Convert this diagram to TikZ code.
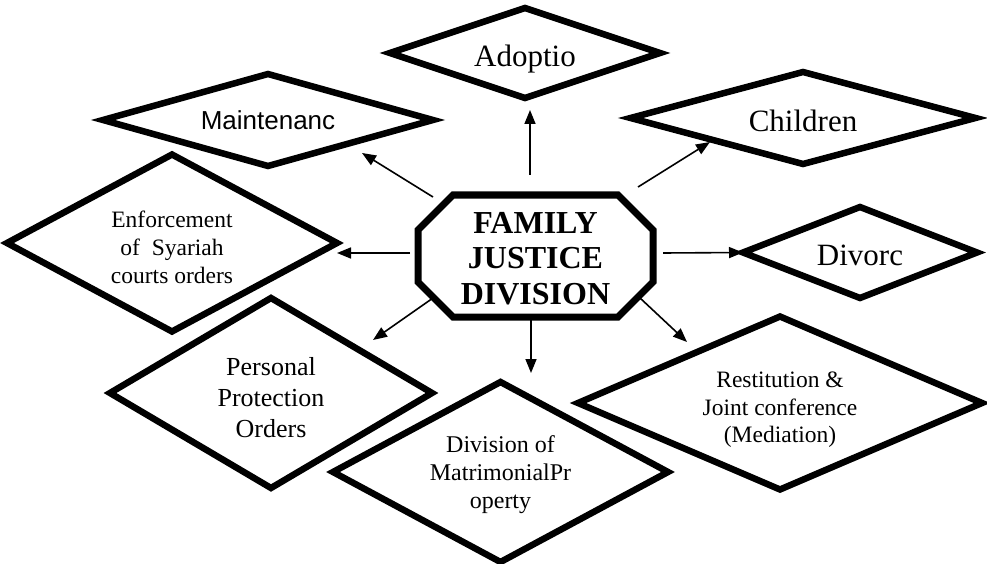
\documentclass[tikz,border=0pt]{standalone}
\usepackage{fontspec}
\setmainfont{Liberation Serif}
\newfontfamily\arialfont{Liberation Sans}
\usetikzlibrary{shapes.geometric,arrows.meta,calc}

%% pushes the text of a box down a little
\newcommand{\txtdrop}[1]{\rule{0pt}{#1}}

\tikzset{
  box/.style={diamond, draw, line width=6.5pt, inner sep=0pt, outer sep=0pt, align=center},
  arr/.style={line width=1.6pt, -{Triangle[length=14pt,width=11pt]}},
}

\begin{document}
\begin{tikzpicture}[x=1pt,y=-1pt]
    \useasboundingbox (0,0) rectangle (987,564);
    %% Centre
    \node[minimum width=235, minimum height=122, inner sep=0pt, outer sep=0pt, align=center,
          font=\fontsize{32}{35.5}\selectfont\bfseries] (fjd) at (535.5,256) {\txtdrop{26pt}FAMILY\\JUSTICE\\DIVISION};
    \draw[line width=7pt] ($(fjd.north west)+(35,0)$) -- ($(fjd.north east)+(-35,0)$)
        -- ($(fjd.north east)+(0,35)$) -- ($(fjd.south east)+(0,-35)$)
        -- ($(fjd.south east)+(-35,0)$) -- ($(fjd.south west)+(35,0)$)
        -- ($(fjd.south west)+(0,-35)$) -- ($(fjd.north west)+(0,35)$) -- cycle;
    %% Top row
    \node[box, minimum width=270, minimum height=90, aspect=3, font=\fontsize{31}{36}\selectfont] (adopt) at (525,53) {\txtdrop{33pt}Adoptio};
    \node[box, minimum width=330, minimum height=92, aspect=3.6, font=\arialfont\fontsize{26}{30}\selectfont] (maint) at (268,120) {Maintenanc};
    \node[box, minimum width=345, minimum height=92, aspect=3.75, font=\fontsize{31}{36}\selectfont] (child) at (803,118) {\txtdrop{27pt}Children};
    %% Sides
    \node[box, minimum width=234, minimum height=91, aspect=2.57, font=\fontsize{31}{36}\selectfont] (divorc) at (860,252.5) {\txtdrop{27pt}Divorc};
    \node[box, minimum width=330, minimum height=177, aspect=1.86, font=\fontsize{23.5}{28}\selectfont] (enforce) at (172,243) {\txtdrop{26pt}Enforcement\\of\ \ Syariah\\courts orders};
    %% Bottom row
    \node[box, minimum width=322, minimum height=190, aspect=1.7, font=\fontsize{26}{31}\selectfont] (person) at (271,393) {\txtdrop{28pt}Personal\\Protection\\Orders};
    \node[box, minimum width=335, minimum height=180, aspect=1.86, font=\fontsize{24}{28}\selectfont] (divmat) at (500.5,472) {\txtdrop{22.5pt}Division of\\MatrimonialPr\\operty};
    \node[box, minimum width=404, minimum height=173, aspect=2.34, font=\fontsize{23.5}{27.5}\selectfont] (restit) at (780,403) {\txtdrop{29pt}Restitution \&\\Joint conference\\(Mediation)};
    %% Arrows
    \draw[arr] ($(fjd)+(-5.5,-81)$) -- ($(adopt.south)+(5,12)$);
    \draw[arr] ($(fjd)+(-102.5,-59)$) -- ($(maint.south east)+(11.5,10)$);
    \draw[arr] ($(fjd)+(102.5,-69)$) -- ($(child.south west)+(-6.75,1)$);
    \draw[arr] ($(fjd)+(127.5,-3)$) -- (divorc.west);
    \draw[arr] ($(fjd)+(-125.5,-3)$) -- ($(enforce.east)+(0,10)$);
    \draw[arr] ($(fjd)+(-102.5,42)$) -- ($(person.north east)+(21.5,-5.5)$);
    \draw[arr] ($(fjd)+(-4.5,63)$) -- ($(divmat.north)+(30.5,-9)$);
    \draw[arr] ($(fjd)+(104.5,42)$) -- ($(restit.north west)+(8,-17.75)$);
\end{tikzpicture}
\end{document}
